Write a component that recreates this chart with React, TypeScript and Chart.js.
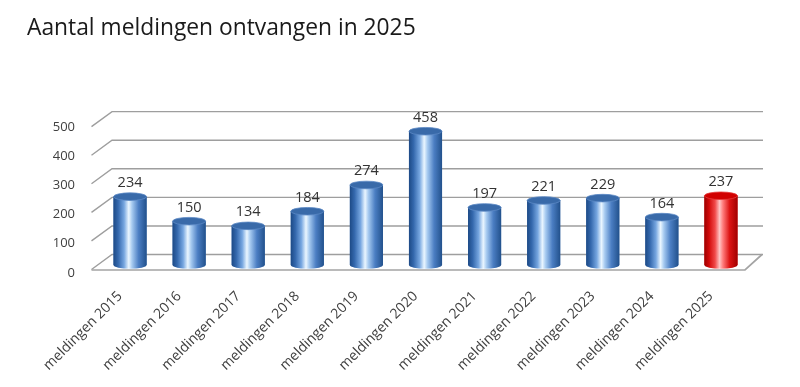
import React, { useEffect, useRef } from 'react';
import { Chart, registerables } from 'chart.js';

Chart.register(...registerables);

const titleText = 'Aantal meldingen ontvangen in 2025';
const categories = [
  'meldingen 2015', 'meldingen 2016', 'meldingen 2017', 'meldingen 2018',
  'meldingen 2019', 'meldingen 2020', 'meldingen 2021', 'meldingen 2022',
  'meldingen 2023', 'meldingen 2024', 'meldingen 2025',
];
const counts = [234, 150, 134, 184, 274, 458, 197, 221, 229, 164, 237];
const highlighted = [false, false, false, false, false, false, false, false, false, false, true];
const yTickValues = [0, 100, 200, 300, 400, 500];

const FONT = '"Open Sans", "DejaVu Sans", sans-serif';

const bluePalette = {
  solid: '#3d6fb0',
  stops: [
    [0, '#1d4a86'], [0.14, '#3468ad'], [0.32, '#76a6e0'], [0.46, '#eaf6ff'],
    [0.56, '#a6caf0'], [0.76, '#4b7ec3'], [1, '#22518c'],
  ] as [number, string][],
  top: '#396aa9',
  topRim: '#5a88c4',
};
const redPalette = {
  solid: '#d00000',
  stops: [
    [0, '#9c0000'], [0.14, '#d20a0a'], [0.32, '#f04848'], [0.46, '#ffc4c4'],
    [0.56, '#ff7c7c'], [0.76, '#dc1414'], [1, '#a20000'],
  ] as [number, string][],
  top: '#d10000',
  topRim: '#e63a3a',
};

const frame3d = {
  id: 'frame3d',
  beforeDatasetsDraw(chart: any) {
    const { ctx, chartArea: a } = chart;
    const ys = chart.scales.y;
    const backL = a.left + 11.5;
    const frontL = a.left - 9;
    const backR = a.right + 12.5;
    ctx.save();
    ctx.strokeStyle = '#9e9e9e';
    ctx.lineWidth = 1.4;
    const maxV = yTickValues[yTickValues.length - 1];
    yTickValues.forEach((v) => {
      const yp = ys.getPixelForValue(v);
      const yb = yp - 10.5 + 3.2 * (v / maxV);
      ctx.beginPath();
      ctx.moveTo(frontL, yb + 15);
      ctx.lineTo(backL, yb);
      ctx.lineTo(backR, yb);
      ctx.stroke();
    });
    // floor front edge
    const y0 = ys.getPixelForValue(0);
    const yb0 = y0 - 10.5;
    ctx.lineWidth = 1.7;
    ctx.strokeStyle = '#a4a4a4';
    ctx.beginPath();
    ctx.moveTo(frontL, yb0 + 15.5);
    ctx.lineTo(a.right - 5.5, yb0 + 15.5);
    ctx.lineTo(backR - 1, yb0);
    ctx.stroke();
    ctx.restore();
  },
};

const cylinders = {
  id: 'cylinders',
  afterDatasetsDraw(chart: any) {
    const { ctx } = chart;
    const meta = chart.getDatasetMeta(0);
    meta.data.forEach((el: any, i: number) => {
      const { x, y, base, width } = el.getProps(['x', 'y', 'base', 'width'], true);
      const pal = highlighted[i] ? redPalette : bluePalette;
      const l = x - width / 2;
      const r = x + width / 2;
      const ry = 3.8;
      ctx.save();
      const g = ctx.createLinearGradient(l, 0, r, 0);
      pal.stops.forEach(([o, c]) => g.addColorStop(o, c));
      ctx.fillStyle = g;
      ctx.beginPath();
      ctx.moveTo(l, y);
      ctx.lineTo(l, base);
      ctx.ellipse(x, base, width / 2, ry, 0, Math.PI, 0, true);
      ctx.lineTo(r, y);
      ctx.closePath();
      ctx.fill();
      // top cap
      ctx.beginPath();
      ctx.ellipse(x, y, width / 2, ry, 0, 0, Math.PI * 2);
      ctx.fillStyle = pal.top;
      ctx.fill();
      ctx.strokeStyle = pal.topRim;
      ctx.lineWidth = 0.8;
      ctx.stroke();
      // value label
      ctx.fillStyle = '#333333';
      ctx.font = `14.5px ${FONT}`;
      ctx.textAlign = 'center';
      ctx.textBaseline = 'alphabetic';
      ctx.fillText(String(counts[i]), x, y - 9.5);
      ctx.restore();
    });
  },
};

export default function App() {
  const canvasRef = useRef<HTMLCanvasElement | null>(null);

  useEffect(() => {
    if (!canvasRef.current) return;
    const chart = new Chart(canvasRef.current, {
      type: 'bar',
      data: {
        labels: categories,
        datasets: [
          {
            data: counts,
            backgroundColor: highlighted.map((h) => (h ? redPalette.solid : bluePalette.solid)),
            borderWidth: 0,
            barPercentage: 0.7,
            categoryPercentage: 0.8,
          },
        ],
      },
      options: {
        animation: false,
        responsive: true,
        maintainAspectRatio: false,
        layout: { padding: { left: 27, right: 49.5, top: 0, bottom: 0 } },
        plugins: {
          legend: { display: false },
          tooltip: { enabled: false },
          title: {
            display: true,
            text: titleText,
            align: 'start',
            color: '#1a1a1a',
            font: { family: FONT, size: 22.8, weight: 'normal' },
            padding: { top: 15, bottom: 76.6 },
          },
        },
        scales: {
          x: {
            grid: { display: false },
            border: { display: false },
            ticks: {
              autoSkip: false,
              minRotation: 45,
              maxRotation: 45,
              labelOffset: -10,
              padding: 15,
              color: '#404040',
              font: { family: FONT, size: 14 },
            },
            afterFit: (scale: any) => {
              scale.height = 122;
            },
          },
          y: {
            min: 0,
            max: 500,
            grid: { display: false, drawTicks: false },
            border: { display: false },
            ticks: {
              stepSize: 100,
              padding: 25.5,
              labelOffset: 8,
              color: '#404040',
              font: { family: FONT, size: 13 },
            },
            afterFit: (scale: any) => {
              scale.width = 73.5;
            },
          },
        },
      },
      plugins: [frame3d, cylinders],
    });
    return () => chart.destroy();
  }, []);

  return (
    <div style={{ position: 'absolute', left: 0, top: 0, width: 800, height: 387, background: '#ffffff' }}>
      <canvas ref={canvasRef} />
    </div>
  );
}
